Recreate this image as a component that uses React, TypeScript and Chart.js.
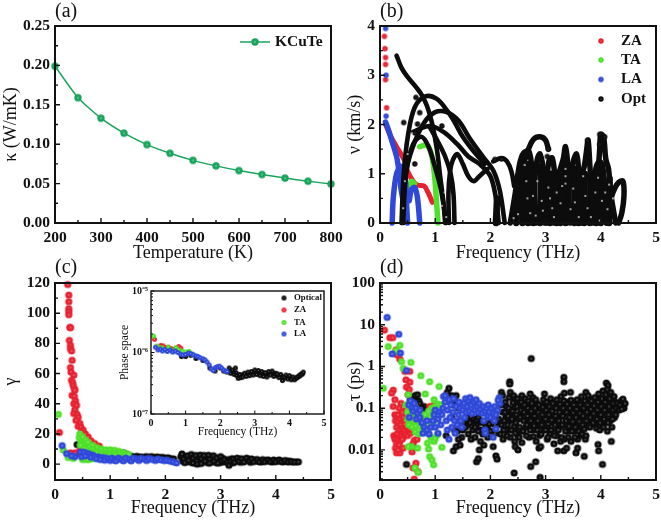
import React, { useEffect, useRef } from "react";
import { Chart, registerables } from "chart.js";

Chart.register(...registerables);

type P = [number, number];

// ---------- panel (a)
const temperature = [200, 250, 300, 350, 400, 450, 500, 550, 600, 650, 700, 750, 800];
const kappa = [0.199, 0.159, 0.133, 0.114, 0.0995, 0.0885, 0.0795, 0.0725, 0.0665, 0.0615, 0.057, 0.053, 0.0495];

// ---------- panel (b)
const vZaTop: P[] = [[0.08, 3.79], [0.09, 3.54], [0.1, 3.36], [0.1, 3.22], [0.1, 2.91], [0.12, 2.34]];
const vLaTop: P[] = [[0.1, 3.95], [0.11, 3.0], [0.11, 2.17]];
const vZaCurve: P[] = [[0.1, 2.0], [0.2, 1.75], [0.3, 1.55], [0.38, 1.4], [0.45, 1.25], [0.5, 1.05], [0.6, 0.85], [0.68, 0.77], [0.8, 0.75], [0.87, 0.62], [0.95, 0.42]];
const vLaCurve: P[] = [[0.1, 2.05], [0.15, 1.9], [0.22, 1.65], [0.3, 1.35], [0.35, 1.0], [0.38, 0.7], [0.42, 0.45]];
const vLaDome1: P[] = [[0.22, 0], [0.24, 0.5], [0.3, 1.0], [0.38, 1.15], [0.45, 1.0], [0.48, 0.4], [0.5, 0]];
const vLaDome2: P[] = [[0.53, 0.45], [0.57, 0.68], [0.63, 0.72], [0.68, 0.5], [0.72, 0]];
const vLaBase: P[] = [[0.22, 0], [0.5, 0], [0.72, 0], [1.0, 0]];
const vTaSmall: P[] = [[0.52, 0.65], [0.57, 0.85], [0.63, 0.8]];
const vTaCurve: P[] = [[0.72, 1.55], [0.85, 1.58], [0.93, 1.4], [0.98, 1.05], [1.02, 0.5], [1.05, 0]];
const vOptA: P[] = [[0.3, 3.4], [0.39, 3.15], [0.51, 2.95], [0.66, 2.75], [0.75, 2.61], [0.85, 2.38], [0.94, 2.04], [1.03, 1.5], [1.09, 0.95], [1.15, 0.41], [1.18, 0]];
const vOptB: P[] = [[0.39, 0], [0.43, 1.0], [0.51, 1.8], [0.63, 2.35], [0.82, 2.57], [1.03, 2.52], [1.21, 2.29], [1.35, 2.05], [1.5, 1.75], [1.7, 1.45], [1.9, 1.2]];
const vOptC: P[] = [[0.42, 0], [0.47, 1.0], [0.58, 1.5], [0.79, 2.02], [1.0, 2.25], [1.21, 2.25], [1.42, 2.08], [1.63, 1.71], [1.87, 1.34], [2.05, 1.07], [2.17, 0.66], [2.26, 0]];
const vOptD: P[] = [[0.6, 1.85], [0.9, 1.97], [1.15, 1.85], [1.4, 1.6], [1.6, 1.35], [1.8, 1.2], [2.0, 0.95], [2.1, 0.5], [2.15, 0]];
const vOptE: P[] = [[0.4, 0], [0.47, 1.0], [0.6, 1.6], [0.75, 1.75], [0.88, 1.55], [0.98, 1.2], [1.1, 0.7], [1.2, 0]];
const vOptF: P[] = [[1.35, 0], [1.33, 0.6], [1.28, 1.0], [1.18, 1.35], [1.05, 1.65], [0.9, 1.95]];
const vOptG: P[] = [[1.25, 0], [1.24, 0.6], [1.27, 1.05], [1.32, 1.28], [1.4, 1.4], [1.5, 1.2], [1.6, 0.95], [1.7, 0.85], [1.8, 0.95], [1.95, 1.1]];
const vOptH: P[] = [[2.05, 1.25], [2.2, 1.32], [2.3, 1.25], [2.38, 1.05], [2.43, 0.75]];
const vOptI: P[] = [[2.36, 0], [2.45, 0.6], [2.53, 1.2], [2.6, 1.42], [2.7, 1.45], [2.76, 1.0], [2.8, 0.5], [2.83, 0]];
const vOptArch: P[] = [[2.6, 1.2], [2.69, 1.5], [2.78, 1.7], [2.9, 1.75], [3.0, 1.68], [3.05, 1.5]];
const vOptJ: P[] = [[2.72, 0], [2.78, 0.7], [2.85, 1.3], [2.9, 1.4], [2.97, 1.0], [3.0, 0.4], [3.02, 0]];
const vOptK: P[] = [[2.98, 0], [3.02, 0.8], [3.06, 1.25], [3.12, 1.32], [3.17, 0.9], [3.2, 0]];
const vOptL: P[] = [[3.15, 0], [3.22, 0.9], [3.32, 1.3], [3.36, 1.55], [3.4, 1.2], [3.42, 0.6], [3.44, 0]];
const vOptM: P[] = [[3.38, 0], [3.45, 1.0], [3.5, 1.25], [3.56, 1.4], [3.6, 1.05], [3.63, 0.4], [3.65, 0]];
const vOptN: P[] = [[3.58, 0], [3.64, 0.9], [3.7, 1.15], [3.74, 1.45], [3.77, 1.68], [3.8, 1.2], [3.84, 0.5], [3.86, 0]];
const vOptO: P[] = [[3.8, 0], [3.86, 0.8], [3.92, 1.15], [3.98, 1.25], [4.04, 1.1], [4.08, 0.5], [4.1, 0]];
const vOptP: P[] = [[3.95, 1.0], [3.98, 1.5], [4.0, 1.8], [4.05, 1.75], [4.09, 1.3], [4.14, 1.1], [4.18, 0.6], [4.27, 0]];
const vOptQ: P[] = [[4.1, 0], [4.2, 0.55], [4.26, 0.72], [4.32, 0.82], [4.4, 0.85], [4.42, 0.55], [4.38, 0.2], [4.32, 0]];
const vFill1: P[] = [[2.47, 0], [2.5, 0.95]];
const vFill2: P[] = [[2.58, 0], [2.6, 1.1]];
const vFill3: P[] = [[2.68, 0], [2.7, 1.2]];
const vFill4: P[] = [[2.78, 0], [2.8, 1.1]];
const vFill5: P[] = [[2.9, 0], [2.92, 1.15]];
const vFill6: P[] = [[3.08, 0], [3.1, 1.0]];
const vFill7: P[] = [[3.27, 0], [3.3, 1.05]];
const vFill8: P[] = [[3.36, 0], [3.37, 1.2]];
const vFill9: P[] = [[3.52, 0], [3.53, 1.1]];
const vFill10: P[] = [[3.7, 0], [3.71, 1.0]];
const vFill11: P[] = [[3.92, 0], [3.93, 1.0]];
const vFill12: P[] = [[4.0, 0], [4.0, 1.1]];
const vFill13: P[] = [[4.15, 0], [4.16, 0.9]];
const vFill14: P[] = [[2.1, 0], [2.12, 0.5]];
const vFill15: P[] = [[3.2, 0], [3.2, 0.9]];
const vFill16: P[] = [[3.6, 0], [3.62, 0.8]];
const vFill17: P[] = [[3.8, 0], [3.82, 0.9]];
const vOptIsolated: P[] = [[0.72, 2.24], [0.43, 2.04], [0.68, 2.01], [0.63, 1.83], [0.63, 1.2], [0.65, 2.55], [1.12, 1.97], [2.08, 1.29], [2.2, 1.3], [3.05, 1.5], [3.03, 1.35], [3.98, 1.6], [3.98, 1.8], [4.07, 1.75], [3.76, 1.68]];
const vWhiteSpecks: P[] = [[0.42, 0.3], [0.45, 0.85], [0.5, 1.4], [0.58, 1.82], [1.12, 0.35], [1.17, 0.62], [1.2, 0.12], [2.42, 0.1], [2.5, 0.18], [2.62, 1.18], [2.65, 0.85], [2.67, 0.5], [2.72, 0.2], [2.77, 0.55], [2.82, 0.15], [2.85, 0.85], [2.93, 0.45], [2.95, 0.25], [3.05, 0.72], [3.08, 0.5], [3.12, 0.3], [3.15, 0.12], [3.2, 0.62], [3.27, 0.4], [3.3, 0.75], [3.36, 1.1], [3.36, 0.95], [3.36, 0.8], [3.45, 0.28], [3.5, 0.7], [3.53, 0.42], [3.6, 0.12], [3.68, 0.95], [3.72, 0.55], [3.76, 0.3], [3.82, 0.12], [3.9, 0.62], [3.95, 0.92], [4.02, 0.45], [4.08, 0.62], [4.12, 0.28], [4.15, 0.78], [4.22, 0.5], [3.98, 0.05]];

// ---------- panel (c)
const gammaZa: P[] = [[0.08, 21], [0.23, 119], [0.25, 112], [0.25, 107.6], [0.25, 103], [0.25, 101], [0.25, 99], [0.27, 90.6], [0.28, 90.4], [0.26, 82], [0.28, 78.7], [0.28, 76.5], [0.3, 75], [0.31, 68.8], [0.28, 64], [0.29, 61], [0.34, 59], [0.3, 55.6], [0.32, 54], [0.33, 52], [0.35, 50], [0.36, 49], [0.31, 45.6], [0.35, 45], [0.37, 42], [0.34, 40], [0.39, 39], [0.36, 36], [0.34, 33.5], [0.4, 33], [0.42, 31], [0.38, 29], [0.45, 27], [0.42, 25], [0.47, 24.5], [0.51, 22.5], [0.48, 21], [0.55, 20], [0.6, 18], [0.65, 15.5], [0.72, 13.7], [0.8, 12], [0.4, 7], [0.45, 9], [0.36, 7.5], [0.28, 7.5]];
const gammaTa: P[] = [[0.06, 33], [0.15, 9.3], [0.24, 4.4], [0.33, 3.8], [0.45, 20], [0.44, 17.5], [0.47, 15], [0.5, 18], [0.5, 14], [0.46, 12.5], [0.55, 16], [0.56, 13], [0.54, 10.5], [0.6, 14.5], [0.62, 11.5], [0.6, 9], [0.68, 12.5], [0.7, 10], [0.68, 8], [0.76, 11], [0.78, 9], [0.75, 7.5], [0.84, 10], [0.86, 8], [0.84, 6.5], [0.92, 9.5], [0.94, 7.5], [0.92, 6], [1.0, 9.5], [1.02, 7.5], [1.0, 6], [1.08, 9.2], [1.1, 7.5], [1.08, 6], [1.16, 8.5], [1.18, 7], [1.24, 7.5], [1.27, 6.5], [1.33, 6.5], [0.5, 3], [0.55, 3.2], [0.6, 3], [0.66, 3.4]];
const gammaLa: P[] = [[0.13, 12.3], [0.21, 7], [0.36, 5], [0.3, 5.5], [0.48, 5], [0.46, 8], [0.52, 8], [0.58, 7.2], [0.55, 5.5], [0.63, 6.5], [0.68, 6], [0.65, 4.6], [0.72, 5], [0.78, 4.8], [0.75, 3.6], [0.84, 4.4], [0.82, 3], [0.9, 4.2], [0.9, 2.6], [0.96, 3.6], [1.0, 2.4], [1.03, 4], [1.08, 3.2], [1.1, 2.2], [1.15, 4], [1.2, 3], [1.24, 2.2], [1.28, 4], [1.34, 3.2], [1.38, 2.2], [1.42, 4], [1.48, 3.4], [1.52, 2.4], [1.56, 3.9], [1.62, 3.3], [1.66, 2.4], [1.7, 3.8], [1.76, 3.1], [1.82, 2.4], [1.86, 3.4], [1.92, 2.8], [1.98, 2.3], [2.02, 2.7], [2.08, 2], [2.14, 1.5], [2.2, 0.8]];
const gammaOpt: P[] = [[0.4, 13], [1.24, 7.5], [1.3, 6.4], [1.38, 5.2], [1.48, 5.2], [1.56, 4.8], [1.65, 5], [1.75, 5], [1.85, 4.8], [1.95, 4.5], [2.05, 4.2], [2.15, 3.5], [2.3, 6.8], [2.33, 3.5], [2.35, 1], [2.4, 5.6], [2.42, 2.5], [2.47, 6.4], [2.5, 4], [2.5, 0.8], [2.55, 5.8], [2.57, 2.2], [2.58, 0], [2.63, 6], [2.65, 3.6], [2.65, 0.4], [2.7, 5.8], [2.72, 2], [2.78, 5.9], [2.8, 3.2], [2.8, 0.6], [2.87, 5.6], [2.88, 2], [2.93, 4.2], [2.95, 0.7], [3.0, 5], [3.02, 2.4], [3.07, 3], [3.12, 1.2], [3.15, -0.8], [3.18, 2], [3.23, 3.4], [3.25, 1.2], [3.3, 4], [3.33, 2], [3.38, 3.6], [3.42, 1.4], [3.47, 4], [3.52, 2.2], [3.56, 3.5], [3.6, 1.6], [3.66, 3.1], [3.7, 1.5], [3.76, 3], [3.8, 1.6], [3.86, 2.8], [3.9, 1.7], [3.96, 2.8], [4.0, 1.6], [4.06, 2.8], [4.1, 1.6], [4.16, 2.4], [4.22, 1.4], [4.28, 1.6], [4.34, 1.4], [4.41, 1.5]];
const gammaOptFill: P[] = [[2.28, 5], [2.31, 2], [2.37, 4.4], [2.38, 1.6], [2.44, 3.4], [2.46, 1.2], [2.52, 2.6], [2.54, 0.6], [2.6, 4.4], [2.61, 1.4], [2.67, 2.4], [2.68, 4.8], [2.74, 3.6], [2.76, 1], [2.83, 4.6], [2.84, 1.6], [2.91, 2.8], [2.92, 1], [2.97, 3.2], [2.99, 1], [3.04, 3.8], [3.05, 1.4], [3.09, 2.2], [3.14, 3], [3.2, 3.6], [3.22, 0.9], [3.28, 2.6], [3.35, 3.2], [3.36, 1.2], [3.44, 2.8], [3.5, 3.4], [3.54, 1.2], [3.62, 2.6], [3.68, 2.2], [3.74, 1.4], [3.82, 2.5], [3.88, 2.2], [3.94, 1.4], [4.02, 2.2], [4.08, 2.2], [4.14, 1.5], [4.2, 2.2], [4.25, 2], [4.31, 1.5], [4.38, 1.5], [1.42, 4.8], [1.52, 4.6], [1.6, 4.4], [1.7, 4.6], [1.8, 4.4], [1.9, 4.4], [2.0, 4], [2.1, 3.6]];

// ---------- inset of panel (c)
const psOpt: P[] = [[0.88, 8.6e-7], [1.0, 8.6e-7], [1.15, 9e-7], [1.3, 8e-7], [1.5, 7.4e-7], [1.7, 5.6e-7], [1.85, 5e-7], [2.0, 5.6e-7], [2.1, 5e-7], [2.2, 4.8e-7], [2.26, 5.6e-7], [2.3, 4.6e-7], [2.35, 5.2e-7], [2.4, 4.4e-7], [2.44, 5.6e-7], [2.48, 4.2e-7], [2.52, 3.8e-7], [2.56, 4.4e-7], [2.6, 3.9e-7], [2.65, 4e-7], [2.7, 4.6e-7], [2.75, 4.1e-7], [2.8, 4.8e-7], [2.85, 4.2e-7], [2.9, 4.9e-7], [2.95, 4.3e-7], [3.0, 5.2e-7], [3.05, 4.4e-7], [3.1, 5.1e-7], [3.15, 4.2e-7], [3.2, 4.9e-7], [3.25, 4.1e-7], [3.3, 4.7e-7], [3.35, 4e-7], [3.4, 4.9e-7], [3.45, 4.3e-7], [3.5, 5e-7], [3.55, 4.1e-7], [3.6, 4.6e-7], [3.65, 4.5e-7], [3.7, 3.9e-7], [3.75, 4.4e-7], [3.8, 3.5e-7], [3.85, 4e-7], [3.9, 4.3e-7], [3.95, 3.7e-7], [4.0, 4.2e-7], [4.05, 3.6e-7], [4.1, 4e-7], [4.15, 3.6e-7], [4.2, 3.9e-7], [4.25, 4.1e-7], [4.3, 4.3e-7], [4.35, 4.5e-7], [4.4, 4.8e-7]];
const psOptFill: P[] = [[2.28, 5.1e-7], [2.33, 4.9e-7], [2.38, 4.8e-7], [2.46, 4.7e-7], [2.54, 4.1e-7], [2.58, 4.1e-7], [2.62, 4.3e-7], [2.68, 4.3e-7], [2.73, 4.3e-7], [2.78, 4.4e-7], [2.83, 4.5e-7], [2.88, 4.5e-7], [2.93, 4.6e-7], [2.98, 4.7e-7], [3.03, 4.7e-7], [3.08, 4.7e-7], [3.13, 4.6e-7], [3.18, 4.5e-7], [3.23, 4.5e-7], [3.28, 4.4e-7], [3.33, 4.4e-7], [3.38, 4.5e-7], [3.43, 4.6e-7], [3.48, 4.6e-7], [3.53, 4.5e-7], [3.58, 4.4e-7], [3.63, 4.2e-7], [3.68, 4.2e-7], [3.73, 4.1e-7], [3.78, 4e-7], [3.83, 3.8e-7], [3.88, 3.9e-7], [3.93, 4e-7], [3.98, 3.9e-7], [4.03, 3.9e-7], [4.08, 3.8e-7], [4.13, 3.8e-7], [4.18, 3.8e-7], [4.23, 3.9e-7], [4.28, 4.1e-7], [4.33, 4.3e-7], [4.38, 4.5e-7]];
const psZa: P[] = [[0.1, 1.64e-6], [0.2, 1.2e-6], [0.28, 1.3e-6], [0.35, 1.28e-6], [0.42, 1.2e-6], [0.5, 1.22e-6], [0.58, 1.16e-6], [0.65, 1.12e-6], [0.72, 1.15e-6], [0.8, 1.25e-6], [0.86, 1.18e-6]];
const psTa: P[] = [[0.07, 1.85e-6], [0.17, 1.27e-6], [0.25, 1.2e-6], [0.33, 1.18e-6], [0.42, 1.1e-6], [0.5, 1.22e-6], [0.58, 1.1e-6], [0.65, 1.03e-6], [0.72, 1.2e-6], [0.8, 1.1e-6], [0.9, 1.05e-6], [1.0, 1.02e-6], [1.1, 1.04e-6], [1.2, 9.4e-7]];
const psLa: P[] = [[0.13, 1.22e-6], [0.2, 1.1e-6], [0.27, 1.14e-6], [0.33, 1.06e-6], [0.4, 1.12e-6], [0.47, 1.04e-6], [0.55, 1.1e-6], [0.62, 1.02e-6], [0.7, 1.06e-6], [0.78, 1e-6], [0.85, 9.4e-7], [0.92, 9.1e-7], [1.0, 9.3e-7], [1.08, 9.8e-7], [1.15, 9.6e-7], [1.22, 9.2e-7], [1.3, 8.8e-7], [1.36, 8.6e-7], [1.42, 8.2e-7], [1.5, 7.9e-7], [1.56, 7.6e-7], [1.62, 7e-7], [1.68, 6.3e-7], [1.74, 5.4e-7], [1.8, 5.1e-7], [1.86, 5.7e-7], [1.92, 5.9e-7], [1.98, 6e-7], [2.04, 5.6e-7], [2.1, 5.2e-7], [2.16, 5e-7], [2.2, 4.9e-7]];

// ---------- panel (d)
const tauZa: P[] = [[0.08, 7.4], [0.18, 4.9], [0.23, 4.9], [0.29, 2.5], [0.31, 1.9], [0.36, 1.5], [0.45, 0.76], [0.54, 0.76], [0.47, 0.48], [0.54, 0.42], [0.48, 0.32], [0.53, 0.28], [0.51, 0.21], [0.24, 0.27], [0.21, 0.23], [0.27, 0.16], [0.24, 0.11], [0.27, 0.07], [0.3, 0.06], [0.33, 0.07], [0.36, 0.055], [0.28, 0.05], [0.32, 0.045], [0.37, 0.04], [0.42, 0.06], [0.45, 0.05], [0.4, 0.08], [0.47, 0.09], [0.3, 0.035], [0.35, 0.03], [0.4, 0.033], [0.44, 0.03], [0.48, 0.035], [0.52, 0.03], [0.25, 0.022], [0.28, 0.02], [0.31, 0.024], [0.34, 0.02], [0.38, 0.022], [0.42, 0.02], [0.46, 0.024], [0.5, 0.022], [0.55, 0.025], [0.58, 0.03], [0.27, 0.018], [0.32, 0.017], [0.36, 0.016], [0.4, 0.018], [0.3, 0.014], [0.34, 0.013], [0.28, 0.011], [0.3, 0.0085], [0.36, 0.0085], [0.33, 0.01], [0.42, 0.011], [0.56, 0.012], [0.62, 0.017], [0.67, 0.018], [0.58, 0.009], [0.6, 0.014], [0.56, 0.05], [0.53, 0.06], [0.38, 0.13], [0.35, 0.1], [0.9, 0.11], [0.97, 0.115], [0.65, 0.0048], [0.63, 0.0037], [0.6, 0.0037], [0.69, 0.003], [0.62, 0.002]];
const tauTa: P[] = [[0.06, 0.3], [0.15, 3.0], [0.36, 3.2], [0.29, 2.4], [0.39, 1.3], [0.56, 1.25], [0.42, 0.9], [0.74, 0.6], [0.9, 0.43], [1.07, 0.33], [0.82, 0.22], [0.51, 0.21], [0.98, 0.16], [0.47, 0.12], [0.53, 0.1], [0.58, 0.13], [0.63, 0.11], [0.68, 0.09], [0.5, 0.08], [0.55, 0.07], [0.6, 0.08], [0.66, 0.065], [0.72, 0.075], [0.5, 0.055], [0.56, 0.05], [0.62, 0.05], [0.7, 0.05], [0.77, 0.055], [0.82, 0.07], [0.88, 0.085], [0.94, 0.1], [1.0, 0.11], [1.05, 0.125], [1.1, 0.12], [0.52, 0.04], [0.58, 0.036], [0.65, 0.038], [0.72, 0.036], [0.78, 0.04], [0.84, 0.05], [0.9, 0.06], [0.96, 0.07], [1.02, 0.085], [0.64, 0.027], [0.7, 0.024], [0.76, 0.026], [0.82, 0.028], [0.88, 0.032], [0.94, 0.04], [0.98, 0.05], [0.86, 0.0145], [0.98, 0.016], [0.92, 0.02], [1.0, 0.019], [1.04, 0.023], [1.12, 0.0115], [0.88, 0.0105], [0.57, 0.012], [0.51, 0.012], [0.9, 0.0069], [0.94, 0.0058], [0.97, 0.0044], [0.63, 0.0037], [0.69, 0.0029], [0.68, 0.011]];
const tauLa: P[] = [[0.13, 15], [0.34, 5.9], [0.22, 2.0], [0.37, 2.1], [0.48, 0.8], [0.52, 0.12], [0.55, 0.15], [0.58, 0.1], [0.62, 0.13], [0.53, 0.06], [0.6, 0.085], [0.65, 0.1], [0.68, 0.075], [0.72, 0.09], [0.66, 0.055], [0.72, 0.06], [0.76, 0.045], [0.8, 0.035], [0.78, 0.025], [0.85, 0.03], [0.85, 0.05], [0.89, 0.024], [0.92, 0.035], [0.96, 0.05], [0.98, 0.07], [1.0, 0.09], [1.0, 0.035], [1.05, 0.025], [1.05, 0.055], [1.08, 0.08], [1.1, 0.04], [1.12, 0.07], [1.14, 0.1], [1.15, 0.19], [1.18, 0.14], [1.18, 0.2], [1.2, 0.05], [1.22, 0.09], [1.22, 0.03], [1.25, 0.018], [1.25, 0.16], [1.27, 0.06], [1.28, 0.12], [1.3, 0.035], [1.32, 0.08], [1.33, 0.17], [1.35, 0.05], [1.36, 0.025], [1.38, 0.11], [1.4, 0.04], [1.42, 0.07], [1.43, 0.14], [1.45, 0.1], [1.46, 0.05], [1.48, 0.035], [1.5, 0.09], [1.52, 0.13], [1.53, 0.06], [1.55, 0.17], [1.56, 0.08], [1.58, 0.11], [1.6, 0.15], [1.62, 0.085], [1.63, 0.18], [1.65, 0.12], [1.67, 0.075], [1.7, 0.14], [1.72, 0.09], [1.74, 0.16], [1.76, 0.11], [1.78, 0.08], [1.8, 0.13], [1.82, 0.095], [1.85, 0.075], [1.87, 0.11], [1.88, 0.05], [1.9, 0.085], [1.9, 0.03], [1.91, 0.025], [1.93, 0.1], [1.95, 0.065], [1.96, 0.12], [1.98, 0.08], [2.0, 0.06], [2.02, 0.1], [2.05, 0.075], [2.05, 0.02], [2.07, 0.05], [2.08, 0.11], [2.1, 0.07], [2.1, 0.032], [2.13, 0.09], [2.16, 0.18], [2.17, 0.13], [2.14, 0.155]];
const tauOpt: P[] = [
  [0.48, 0.0045], [0.55, 0.16], [0.63, 0.2], [0.68, 0.21], [0.72, 0.13], [0.76, 0.1], [0.85, 0.09], [1.25, 0.3], [1.3, 0.2], [1.35, 0.15], [1.33, 0.0095], [1.38, 0.012], [1.45, 0.013], [1.48, 0.02],
  [1.2, 0.022], [1.3, 0.06], [1.35, 0.03], [1.42, 0.018], [1.45, 0.05], [1.5, 0.03], [1.55, 0.035], [1.6, 0.024], [1.65, 0.018], [1.63, 0.045], [1.7, 0.055], [1.72, 0.035], [1.72, 0.02], [1.75, 0.052], [1.78, 0.06], [1.78, 0.028], [1.82, 0.016], [1.8, 0.01], [1.85, 0.045], [1.86, 0.024], [1.88, 0.013], [1.92, 0.035], [1.95, 0.02], [1.98, 0.042], [2.0, 0.028], [2.05, 0.012], [2.1, 0.0072], [2.12, 0.006], [2.08, 0.04], [2.15, 0.055], [2.18, 0.024], [2.2, 0.24], [2.22, 0.2], [1.75, 0.0052], [1.78, 0.0062],
  [2.24, 0.03], [2.25, 0.05], [2.26, 0.08], [2.27, 0.14], [2.3, 0.022], [2.31, 0.04], [2.32, 0.065], [2.33, 0.1], [2.34, 0.18], [2.35, 0.43], [2.35, 0.38], [2.36, 0.24], [2.38, 0.03], [2.39, 0.055], [2.4, 0.085], [2.41, 0.135], [2.42, 0.2], [2.44, 0.016], [2.45, 0.025], [2.46, 0.045], [2.47, 0.07], [2.48, 0.11], [2.49, 0.17], [2.43, 0.0028], [2.45, 0.012], [2.5, 0.01], [2.52, 0.02], [2.53, 0.035], [2.54, 0.06], [2.55, 0.09], [2.56, 0.14], [2.57, 0.2], [2.59, 0.028], [2.6, 0.05], [2.61, 0.08], [2.62, 0.12], [2.63, 0.17], [2.65, 0.022], [2.66, 0.04], [2.67, 0.065], [2.68, 0.1], [2.69, 0.15], [2.74, 1.55], [2.72, 0.22], [2.72, 0.03], [2.73, 0.05], [2.74, 0.085], [2.75, 0.13], [2.73, 0.004], [2.78, 0.021], [2.79, 0.038], [2.8, 0.065], [2.81, 0.1], [2.82, 0.16], [2.82, 0.0052], [2.85, 0.03], [2.86, 0.05], [2.87, 0.08], [2.88, 0.12], [2.88, 0.011], [2.91, 0.012], [2.92, 0.024], [2.93, 0.04], [2.94, 0.07], [2.95, 0.105], [2.96, 0.16], [2.9, 0.0022], [2.98, 0.22], [3.0, 0.03], [3.0, 0.055], [3.01, 0.09], [3.02, 0.14], [3.04, 0.02], [3.05, 0.042], [3.06, 0.07], [3.07, 0.11], [3.09, 0.17], [3.1, 0.03], [3.11, 0.052], [3.12, 0.085], [3.13, 0.13], [3.15, 0.014], [3.16, 0.022], [3.17, 0.04], [3.18, 0.065], [3.19, 0.1], [3.2, 0.16], [3.22, 0.0095], [3.23, 0.03], [3.24, 0.05], [3.25, 0.08], [3.26, 0.125], [3.28, 0.19], [3.29, 0.02], [3.3, 0.04], [3.31, 0.065], [3.32, 0.1], [3.33, 0.15], [3.33, 0.55], [3.33, 0.43], [3.34, 0.23], [3.33, 0.0095], [3.36, 0.028], [3.37, 0.05], [3.38, 0.08], [3.39, 0.125], [3.38, 0.011], [3.41, 0.02], [3.42, 0.037], [3.43, 0.06], [3.44, 0.1], [3.45, 0.24], [3.46, 0.155], [3.48, 0.028], [3.49, 0.048], [3.5, 0.078], [3.51, 0.12], [3.53, 0.02], [3.54, 0.035], [3.55, 0.06], [3.56, 0.095], [3.57, 0.16], [3.55, 0.0085], [3.58, 0.011], [3.6, 0.028], [3.61, 0.048], [3.62, 0.075], [3.63, 0.12], [3.65, 0.19], [3.66, 0.024], [3.67, 0.04], [3.68, 0.065], [3.69, 0.1], [3.7, 0.007], [3.71, 0.15], [3.73, 0.022], [3.73, 0.24], [3.74, 0.05], [3.75, 0.08], [3.76, 0.12], [3.77, 0.2], [3.8, 0.035], [3.81, 0.06], [3.82, 0.095], [3.83, 0.15], [3.86, 0.045], [3.87, 0.075], [3.88, 0.115], [3.89, 0.18], [3.92, 0.033], [3.93, 0.055], [3.94, 0.09], [3.95, 0.14], [3.95, 0.0135], [3.96, 0.0095], [3.96, 0.22], [3.98, 0.03], [3.99, 0.045], [4.0, 0.07], [4.01, 0.11], [4.02, 0.17], [4.03, 0.0045], [4.04, 0.26], [4.05, 0.035], [4.06, 0.055], [4.07, 0.09], [4.08, 0.14], [4.09, 0.21], [4.1, 0.4], [4.13, 0.35], [4.12, 0.28], [4.12, 0.028], [4.13, 0.045], [4.14, 0.07], [4.15, 0.11], [4.16, 0.17], [4.18, 0.24], [4.19, 0.016], [4.2, 0.035], [4.21, 0.055], [4.22, 0.09], [4.23, 0.13], [4.24, 0.19], [4.27, 0.07], [4.28, 0.1], [4.3, 0.13], [4.33, 0.09], [4.35, 0.12], [4.37, 0.15], [4.4, 0.165], [4.42, 0.1], [4.38, 0.095], [4.44, 0.13]
];
const tauOptFill: P[] = [
  [0.62, 0.16], [0.7, 0.15], [0.8, 0.11], [0.9, 0.09], [1.22, 0.24], [1.28, 0.16], [1.32, 0.12], [1.38, 0.2], [1.42, 0.1], [1.4, 0.028], [1.52, 0.045], [1.58, 0.06], [1.6, 0.04], [1.68, 0.03], [1.68, 0.05], [1.75, 0.04], [1.82, 0.03], [1.82, 0.05], [1.9, 0.045], [1.96, 0.03], [2.02, 0.05], [2.08, 0.025], [2.12, 0.04], [2.2, 0.04], [2.2, 0.12], [2.22, 0.08], [2.23, 0.018],
  [2.28, 0.06], [2.29, 0.03], [2.29, 0.11], [2.36, 0.05], [2.37, 0.075], [2.36, 0.02], [2.43, 0.1], [2.43, 0.036], [2.44, 0.17], [2.5, 0.055], [2.51, 0.03], [2.5, 0.022], [2.52, 0.13], [2.58, 0.075], [2.57, 0.015], [2.58, 0.11], [2.64, 0.035], [2.65, 0.055], [2.64, 0.14], [2.7, 0.02], [2.7, 0.042], [2.7, 0.075], [2.71, 0.11], [2.76, 0.06], [2.77, 0.03], [2.77, 0.18], [2.83, 0.016], [2.83, 0.05], [2.84, 0.085], [2.84, 0.13], [2.89, 0.022], [2.89, 0.04], [2.9, 0.06], [2.9, 0.1], [2.96, 0.03], [2.97, 0.05], [2.98, 0.085], [2.99, 0.13], [3.03, 0.018], [3.03, 0.035], [3.04, 0.06], [3.04, 0.1], [3.08, 0.024], [3.09, 0.08], [3.1, 0.13], [3.14, 0.045], [3.14, 0.1], [3.15, 0.065], [3.2, 0.022], [3.21, 0.03], [3.21, 0.05], [3.22, 0.13], [3.27, 0.016], [3.27, 0.036], [3.28, 0.065], [3.28, 0.1], [3.34, 0.018], [3.35, 0.04], [3.35, 0.075], [3.35, 0.11], [3.4, 0.028], [3.4, 0.05], [3.41, 0.085], [3.41, 0.14], [3.46, 0.016], [3.46, 0.04], [3.47, 0.065], [3.47, 0.1], [3.52, 0.028], [3.52, 0.05], [3.53, 0.08], [3.53, 0.14], [3.58, 0.018], [3.58, 0.04], [3.59, 0.06], [3.59, 0.1], [3.64, 0.022], [3.64, 0.035], [3.65, 0.08], [3.65, 0.14], [3.7, 0.032], [3.7, 0.05], [3.71, 0.085], [3.71, 0.12], [3.72, 0.018], [3.78, 0.04], [3.78, 0.07], [3.79, 0.1], [3.79, 0.17], [3.84, 0.05], [3.85, 0.07], [3.85, 0.13], [3.9, 0.04], [3.9, 0.065], [3.91, 0.1], [3.91, 0.15], [3.97, 0.055], [3.97, 0.085], [3.98, 0.12], [3.98, 0.18], [4.03, 0.04], [4.03, 0.06], [4.04, 0.1], [4.04, 0.15], [4.1, 0.05], [4.1, 0.08], [4.11, 0.12], [4.11, 0.19], [4.17, 0.05], [4.18, 0.08], [4.18, 0.13], [4.25, 0.06], [4.25, 0.1], [4.26, 0.14], [4.31, 0.1], [4.36, 0.1], [4.4, 0.125]
];

// ---------- axis tick lists
const xTicksA = [200, 300, 400, 500, 600, 700, 800];
const yTicksA = [0, 0.05, 0.1, 0.15, 0.2, 0.25];
const freqTicks = [0, 1, 2, 3, 4, 5];
const yTicksB = [0, 1, 2, 3, 4];
const yTicksC = [0, 20, 40, 60, 80, 100, 120];
const yTicksD = [0.01, 0.1, 1, 10, 100];
const yTicksInset = [1e-7, 1e-6, 1e-5];
const insetLabels: Record<string, string> = { "1e-7": "10⁻⁷", "0.000001": "10⁻⁶", "0.00001": "10⁻⁵" };
const tauLabels: Record<string, string> = { "0.01": "0.01", "0.1": "0.1", "1": "1", "10": "10", "100": "100" };

const RED = "#e8202f";
const GREEN = "#4fe02a";
const BLUE = "#2f48d8";
const BLACK = "#0c0c0c";
const TEAL = "#1aa45c";
const SERIF = "'Liberation Serif', serif";

function ball(color: string, d: number, hi: string) {
  const pad = 1;
  const s = Math.ceil(d) + pad * 2;
  const c = document.createElement("canvas");
  c.width = s;
  c.height = s;
  const g = c.getContext("2d")!;
  const m = s / 2;
  const grad = g.createRadialGradient(m, m, 0, m, m, d / 2);
  grad.addColorStop(0, hi);
  grad.addColorStop(0.3, color);
  grad.addColorStop(1, color);
  g.fillStyle = grad;
  g.beginPath();
  g.arc(m, m, d / 2, 0, Math.PI * 2);
  g.fill();
  return c;
}

const pts = (a: P[]) => a.map(([x, y]) => ({ x, y }));

type PanelCfg = {
  letter?: { text: string; x: number; y: number };
  xMajor: number[];
  xMinor: number[];
  yMajor: number[];
  yMinor: number[];
  tickMajor: number;
  tickMinor: number;
  lineWidth: number;
  legend?: { x: number; y: number; textX: number; text: string; sprite: HTMLCanvasElement; font: string; line?: number }[];
};

function panelPlugin(cfg: PanelCfg) {
  return {
    id: "panel",
    afterDatasetsDraw(chart: any) {
      const ctx = chart.ctx;
      const a = chart.chartArea;
      const xs = chart.scales.x;
      const ys = chart.scales.y;
      ctx.save();
      ctx.strokeStyle = "#111";
      ctx.lineWidth = Math.max(1, cfg.lineWidth * 0.7);
      ctx.beginPath();
      const tick = (vals: number[], len: number, horiz: boolean) => {
        for (const v of vals) {
          if (horiz) {
            const p = xs.getPixelForValue(v);
            ctx.moveTo(p, a.bottom);
            ctx.lineTo(p, a.bottom - len);
          } else {
            const p = ys.getPixelForValue(v);
            ctx.moveTo(a.left, p);
            ctx.lineTo(a.left + len, p);
          }
        }
      };
      tick(cfg.xMajor, cfg.tickMajor, true);
      tick(cfg.xMinor, cfg.tickMinor, true);
      tick(cfg.yMajor, cfg.tickMajor, false);
      tick(cfg.yMinor, cfg.tickMinor, false);
      ctx.stroke();
      ctx.lineWidth = cfg.lineWidth;
      ctx.strokeRect(a.left, a.top, a.right - a.left, a.bottom - a.top);
      ctx.fillStyle = "#111";
      if (cfg.letter) {
        ctx.font = `20px ${SERIF}`;
        ctx.textBaseline = "middle";
        ctx.textAlign = "left";
        ctx.fillText(cfg.letter.text, cfg.letter.x, cfg.letter.y);
      }
      for (const l of cfg.legend ?? []) {
        if (l.line) {
          ctx.strokeStyle = TEAL;
          ctx.lineWidth = 1.5;
          ctx.beginPath();
          ctx.moveTo(l.x - l.line, l.y);
          ctx.lineTo(l.x + l.line, l.y);
          ctx.stroke();
        }
        ctx.drawImage(l.sprite, l.x - l.sprite.width / 2, l.y - l.sprite.height / 2);
        ctx.font = l.font;
        ctx.textBaseline = "middle";
        ctx.textAlign = "left";
        ctx.fillText(l.text, l.textX, l.y);
      }
      ctx.restore();
    },
  };
}

type Box = { l: number; r: number; t: number; b: number; yW: number; xH: number };

function makeScales(box: Box, o: {
  xMin: number; xMax: number; yMin: number; yMax: number; xT: number[]; yT: number[];
  yType?: string; xTitle: string; yTitle: string; yFmt: (v: number) => string;
  tickFont: number; titleFont: number; tickPadX: number; tickPadY: number;
}) {
  const common = (size: "w" | "h") => ({
    afterFit(s: any) {
      if (size === "w") s.width = box.yW; else s.height = box.xH;
      s.paddingLeft = s.paddingRight = s.paddingTop = s.paddingBottom = 0;
    },
    grid: { display: false, drawTicks: false },
    border: { display: false },
  });
  return {
    x: {
      ...common("h"),
      type: "linear",
      min: o.xMin,
      max: o.xMax,
      afterBuildTicks(s: any) { s.ticks = o.xT.map((value) => ({ value })); },
      ticks: { autoSkip: false, maxRotation: 0, padding: o.tickPadX, color: "#111", font: { family: SERIF, weight: "bold", size: o.tickFont }, callback: (v: number) => String(v) },
      title: { display: true, text: o.xTitle, color: "#111", padding: 0, font: { family: SERIF, size: o.titleFont, lineHeight: 1 } },
    },
    y: {
      ...common("w"),
      type: o.yType ?? "linear",
      min: o.yMin,
      max: o.yMax,
      afterBuildTicks(s: any) { s.ticks = o.yT.map((value) => ({ value })); },
      ticks: { autoSkip: false, maxRotation: 0, padding: o.tickPadY, color: "#111", font: { family: SERIF, weight: "bold", size: o.tickFont }, callback: o.yFmt },
      title: { display: true, text: o.yTitle, color: "#111", padding: 0, font: { family: SERIF, size: o.titleFont, lineHeight: 1 } },
    },
  };
}

function baseOptions(box: Box, scales: any) {
  return {
    responsive: false,
    animation: false as const,
    events: [] as string[],
    layout: { padding: { left: box.l - box.yW, right: 661 - box.r, top: box.t, bottom: 521 - box.b - box.xH } },
    plugins: { legend: { display: false }, tooltip: { enabled: false }, title: { display: false } },
    scales,
  };
}

function decadeMinors(from: number, to: number) {
  const out: number[] = [];
  for (let e = from; e < to; e++) for (let k = 2; k <= 9; k++) out.push(k * Math.pow(10, e));
  return out;
}

export default function App() {
  const a = useRef<HTMLCanvasElement>(null);
  const b = useRef<HTMLCanvasElement>(null);
  const c = useRef<HTMLCanvasElement>(null);
  const d = useRef<HTMLCanvasElement>(null);
  const e = useRef<HTMLCanvasElement>(null);

  useEffect(() => {
    const big = (col: string, hi: string, size = 7.2) => ball(col, size, hi);
    const sR = big(RED, "#ffb0b0");
    const sG = big(GREEN, "#d8ffc8");
    const sB = big(BLUE, "#b8c4ff");
    const sK = big(BLACK, "#a0a0a0");
    const sT = ball(TEAL, 7.4, "#a8f0c8");
    const mR = big(RED, "#ffb0b0", 5.4);
    const mG = big(GREEN, "#d8ffc8", 5.4);
    const mB = big(BLUE, "#b8c4ff", 5.4);
    const mK = big(BLACK, "#9a9a9a", 5.4);
    const tR = big(RED, "#ffb0b0", 5);
    const tG = big(GREEN, "#d8ffc8", 5);
    const tB = big(BLUE, "#b8c4ff", 5);
    const tK = big(BLACK, "#707070", 5);

    const scatter = (data: P[], sprite: HTMLCanvasElement, order: number, clip: any = false) => ({
      data: pts(data),
      pointStyle: sprite,
      pointRadius: 3,
      showLine: false,
      order,
      clip,
    });
    const thick = (data: P[], color: string, width: number, order: number) => ({
      data: pts(data),
      showLine: true,
      borderColor: color,
      borderWidth: width,
      borderCapStyle: "round",
      borderJoinStyle: "round",
      tension: 0.35,
      pointRadius: 0,
      order,
      clip: false,
    });

    const boxA: Box = { l: 55, r: 331, t: 26, b: 223, yW: 53, xH: 39 };
    const chartA = new Chart(a.current!, {
      type: "line",
      data: {
        datasets: [{
          data: temperature.map((x, i) => ({ x, y: kappa[i] })),
          borderColor: TEAL,
          borderWidth: 1.5,
          tension: 0.2,
          pointStyle: sT as any,
          pointRadius: 3.5,
          clip: false as any,
        }],
      },
      options: baseOptions(boxA, makeScales(boxA, {
        xMin: 200, xMax: 800, yMin: 0, yMax: 0.25, xT: xTicksA, yT: yTicksA,
        xTitle: "Temperature (K)", yTitle: "κ (W/mK)", yFmt: (v) => v.toFixed(2),
        tickFont: 15.5, titleFont: 18, tickPadX: 6, tickPadY: 5,
      })) as any,
      plugins: [panelPlugin({
        letter: { text: "(a)", x: 55, y: 12 },
        xMajor: xTicksA, xMinor: [250, 350, 450, 550, 650, 750],
        yMajor: yTicksA, yMinor: [0.025, 0.075, 0.125, 0.175, 0.225],
        tickMajor: 5, tickMinor: 3, lineWidth: 2,
        legend: [{ x: 255, y: 42, textX: 275, text: "KCuTe", sprite: sT, font: `bold 15.5px ${SERIF}`, line: 15 }],
      })],
    });

    const boxB: Box = { l: 380, r: 656, t: 26, b: 223, yW: 34, xH: 39 };
    const optDomes = [vOptA, vOptB, vOptC, vOptD, vOptE, vOptF, vOptG, vOptH];
    const optFingers = [vOptI, vOptArch, vOptJ, vOptK, vOptL, vOptM, vOptN, vOptO, vOptP, vOptQ];
    const optFill = [vFill1, vFill2, vFill3, vFill4, vFill5, vFill6, vFill7, vFill8, vFill9, vFill10, vFill11, vFill12, vFill13, vFill14, vFill15, vFill16, vFill17];
    const chartB = new Chart(b.current!, {
      type: "scatter",
      data: {
        datasets: [
          scatter(vWhiteSpecks, ball("#e8e8e8", 1.8, "#ffffff"), 0),
          scatter(vOptIsolated, mK, 1),
          ...optDomes.map((l) => thick(l, BLACK, 4.6, 2)),
          ...optFingers.map((l) => thick(l, BLACK, 5.5, 2)),
          ...optFill.map((l) => thick(l, BLACK, 6.5, 2)),
          thick(vLaDome1, BLUE, 5.5, 3),
          thick(vLaDome2, BLUE, 5.5, 3),
          thick(vLaCurve, BLUE, 5.5, 4),
          scatter(vLaTop, mB, 4),
          thick(vTaSmall, GREEN, 5, 5),
          thick(vTaCurve, GREEN, 5.5, 5),
          thick(vZaCurve, RED, 5, 6),
          scatter(vZaTop, mR, 6),
          thick(vLaBase, BLUE, 2, 7),
        ] as any,
      },
      options: baseOptions(boxB, makeScales(boxB, {
        xMin: 0, xMax: 5, yMin: 0, yMax: 4, xT: freqTicks, yT: yTicksB,
        xTitle: "Frequency (THz)", yTitle: "ν (km/s)", yFmt: (v) => String(v),
        tickFont: 15.5, titleFont: 18, tickPadX: 6, tickPadY: 5,
      })) as any,
      plugins: [panelPlugin({
        letter: { text: "(b)", x: 380, y: 12 },
        xMajor: freqTicks, xMinor: [0.5, 1.5, 2.5, 3.5, 4.5],
        yMajor: yTicksB, yMinor: [0.5, 1.5, 2.5, 3.5],
        tickMajor: 5, tickMinor: 3, lineWidth: 2,
        legend: [
          { x: 601, y: 41, textX: 621, text: "ZA", sprite: mR, font: `bold 15px ${SERIF}` },
          { x: 601, y: 60, textX: 621, text: "TA", sprite: mG, font: `bold 15px ${SERIF}` },
          { x: 601, y: 79.5, textX: 621, text: "LA", sprite: mB, font: `bold 15px ${SERIF}` },
          { x: 601, y: 99, textX: 621, text: "Opt", sprite: mK, font: `bold 15px ${SERIF}` },
        ],
      })],
    });

    const boxC: Box = { l: 55, r: 331, t: 283, b: 480, yW: 53, xH: 37 };
    const chartC = new Chart(c.current!, {
      type: "scatter",
      data: {
        datasets: [
          scatter(gammaLa, sB, 0),
          scatter(gammaTa, sG, 1),
          scatter(gammaZa, sR, 2),
          scatter(gammaOpt, sK, 3),
          scatter(gammaOptFill, sK, 3),
        ] as any,
      },
      options: baseOptions(boxC, makeScales(boxC, {
        xMin: 0, xMax: 5, yMin: -10.5, yMax: 120, xT: freqTicks, yT: yTicksC,
        xTitle: "Frequency (THz)", yTitle: "γ", yFmt: (v) => String(v),
        tickFont: 15.5, titleFont: 18, tickPadX: 6, tickPadY: 5,
      })) as any,
      plugins: [panelPlugin({
        letter: { text: "(c)", x: 55, y: 268 },
        xMajor: freqTicks, xMinor: [0.5, 1.5, 2.5, 3.5, 4.5],
        yMajor: yTicksC, yMinor: [10, 30, 50, 70, 90, 110],
        tickMajor: 5, tickMinor: 3, lineWidth: 2,
      })],
    });

    const boxE: Box = { l: 151, r: 324, t: 291, b: 414, yW: 31.5, xH: 24 };
    const chartE = new Chart(e.current!, {
      type: "scatter",
      data: {
        datasets: [
          scatter(psLa, tB, 0),
          scatter(psTa, tG, 1),
          scatter(psZa, tR, 2),
          scatter(psOpt, tK, 3),
          scatter(psOptFill, tK, 3),
        ] as any,
      },
      options: baseOptions(boxE, makeScales(boxE, {
        xMin: 0, xMax: 5, yMin: 1e-7, yMax: 1e-5, xT: freqTicks, yT: yTicksInset, yType: "logarithmic",
        xTitle: "Frequency (THz)", yTitle: "Phase space", yFmt: (v) => insetLabels[String(v)] ?? "",
        tickFont: 10, titleFont: 11.5, tickPadX: 3, tickPadY: 3,
      })) as any,
      plugins: [panelPlugin({
        xMajor: freqTicks, xMinor: [0.5, 1.5, 2.5, 3.5, 4.5],
        yMajor: yTicksInset, yMinor: decadeMinors(-7, -5),
        tickMajor: 3.5, tickMinor: 2, lineWidth: 1.4,
        legend: [
          { x: 284, y: 298, textX: 294, text: "Optical", sprite: tK, font: `bold 8.8px ${SERIF}` },
          { x: 284, y: 310, textX: 294, text: "ZA", sprite: tR, font: `bold 8.8px ${SERIF}` },
          { x: 284, y: 322.5, textX: 294, text: "TA", sprite: tG, font: `bold 8.8px ${SERIF}` },
          { x: 284, y: 334, textX: 294, text: "LA", sprite: tB, font: `bold 8.8px ${SERIF}` },
        ],
      })],
    });

    const boxD: Box = { l: 380, r: 656, t: 283, b: 480, yW: 34, xH: 37 };
    const chartD = new Chart(d.current!, {
      type: "scatter",
      data: {
        datasets: [
          scatter(tauLa, sB, 0, true),
          scatter(tauTa, sG, 1, true),
          scatter(tauZa, sR, 2, true),
          scatter(tauOpt, sK, 3, true),
          scatter(tauOptFill, sK, 3, true),
        ] as any,
      },
      options: baseOptions(boxD, makeScales(boxD, {
        xMin: 0, xMax: 5, yMin: 0.0019, yMax: 100, xT: freqTicks, yT: yTicksD, yType: "logarithmic",
        xTitle: "Frequency (THz)", yTitle: "τ (ps)", yFmt: (v) => tauLabels[String(v)] ?? "",
        tickFont: 15.5, titleFont: 18, tickPadX: 6, tickPadY: 5,
      })) as any,
      plugins: [panelPlugin({
        letter: { text: "(d)", x: 380, y: 268 },
        xMajor: freqTicks, xMinor: [0.5, 1.5, 2.5, 3.5, 4.5],
        yMajor: yTicksD, yMinor: decadeMinors(-3, 2).filter((v) => v > 0.0019),
        tickMajor: 5, tickMinor: 3, lineWidth: 2,
      })],
    });

    return () => {
      chartA.destroy();
      chartB.destroy();
      chartC.destroy();
      chartD.destroy();
      chartE.destroy();
    };
  }, []);

  const style: React.CSSProperties = { position: "absolute", left: 0, top: 0 };
  return (
    <div>
      <canvas ref={a} width={661} height={521} style={style} />
      <canvas ref={b} width={661} height={521} style={style} />
      <canvas ref={c} width={661} height={521} style={style} />
      <canvas ref={d} width={661} height={521} style={style} />
      <canvas ref={e} width={661} height={521} style={style} />
    </div>
  );
}
